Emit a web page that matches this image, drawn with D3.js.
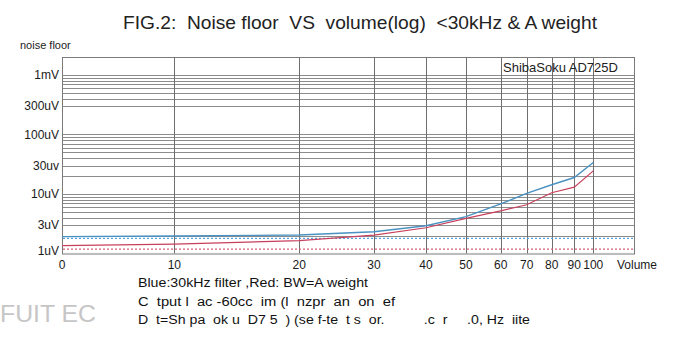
<!DOCTYPE html>
<html>
<head>
<meta charset="utf-8">
<script src="https://cdn.jsdelivr.net/npm/d3@7"></script>
<style>
  html, body { margin: 0; padding: 0; background: #fff; }
  svg { display: block; }
  text { font-family: "Liberation Sans", Arial, sans-serif; white-space: pre; }
</style>
</head>
<body>
<svg id="chart" width="680" height="340"></svg>
<script>
// Volume knob positions and where each one sits along the log-taper axis
// (fraction of the 0..100 span).
const volumeTicks = [0, 10, 20, 30, 40, 50, 60, 70, 80, 90, 100];
const taperPos    = [0, 0.2114, 0.4466, 0.5872, 0.6851, 0.7604, 0.8257, 0.8746, 0.9217, 0.9642, 1];

// Noise floor readings in uV, one per volume step.
const blue30k  = [1.92, 1.97, 2.04, 2.32, 2.93, 4.16, 6.8, 10.2, 14.3, 18.9, 33.8];
const redAwt   = [1.36, 1.44, 1.64, 2.04, 2.71, 3.9, 5.2, 6.6, 10.5, 13.0, 24.4];

// Residual floor of the analyzer itself (uV), drawn dotted.
const blueResidual = 1.8;
const redResidual  = 1.18;

// Y axis labels (uV).
const yTickValues = [1, 3, 10, 30, 100, 300, 1000];
const yTickLabels = ["1uV", "3uV", "10uV", "30uv", "100uV", "300uV", "1mV"];
const yDomain = [1, 2000];
// The printed log sheet has no 200uV rule.
const gridSkip = [200];

const svg = d3.select("#chart");
const plot = { left: 62, right: 635, top: 57, bottom: 253.5 };
const overrun = 1.0785;                   // frame continues past volume 100
const span = (plot.right - plot.left) / overrun;

const x = d3.scaleLinear()
  .domain(volumeTicks)
  .range(taperPos.map(f => plot.left + f * span));
const xEnd = plot.right;

const y = d3.scaleLog().domain(yDomain).range([plot.bottom, plot.top]);

// Title and axis name
svg.append("text")
  .attr("x", 123).attr("y", 29)
  .attr("textLength", 474).attr("lengthAdjust", "spacingAndGlyphs")
  .style("font-size", "19px").attr("fill", "#222")
  .text("FIG.2:  Noise floor  VS  volume(log)  <30kHz & A weight");

svg.append("text")
  .attr("x", 20).attr("y", 49)
  .style("font-size", "11px").attr("fill", "#222")
  .text("noise floor");

// Horizontal log grid: 1..9 in every decade
const gridVals = [];
[1, 10, 100, 1000].forEach(d => {
  for (let m = 1; m <= 9; m++) {
    const v = d * m;
    if (v > yDomain[0] && v < yDomain[1] && !gridSkip.includes(v)) gridVals.push(v);
  }
});
svg.append("g").selectAll("line").data(gridVals).join("line")
  .attr("x1", plot.left).attr("x2", xEnd)
  .attr("y1", d => Math.round(y(d)) + 0.5).attr("y2", d => Math.round(y(d)) + 0.5)
  .attr("stroke", "#8c8c8c").attr("stroke-width", 1);

// Vertical grid at each volume step
svg.append("g").selectAll("line").data(volumeTicks.slice(1)).join("line")
  .attr("x1", d => Math.round(x(d)) + 0.5).attr("x2", d => Math.round(x(d)) + 0.5)
  .attr("y1", plot.top).attr("y2", plot.bottom)
  .attr("stroke", "#6e6e6e").attr("stroke-width", 1);

// Frame
svg.append("rect")
  .attr("x", plot.left + 0.5).attr("y", plot.top + 0.5)
  .attr("width", xEnd - plot.left - 1).attr("height", plot.bottom - plot.top)
  .attr("fill", "none").attr("stroke", "#7a7a7a").attr("stroke-width", 1);

// Y axis labels
svg.append("g").selectAll("text").data(yTickValues).join("text")
  .attr("x", 59).attr("y", d => y(d))
  .attr("dy", d => d === 1 ? "0.1em" : "0.35em")
  .attr("text-anchor", "end")
  .style("font-size", "12px").attr("fill", "#1a1a1a")
  .text((d, i) => yTickLabels[i]);

// X axis labels
svg.append("g").selectAll("text").data(volumeTicks).join("text")
  .attr("x", d => x(d)).attr("y", 269)
  .attr("text-anchor", "middle")
  .style("font-size", "12px").attr("fill", "#1a1a1a")
  .text(d => d);
svg.append("text")
  .attr("x", 617).attr("y", 269)
  .style("font-size", "12px").attr("fill", "#1a1a1a")
  .text("Volume");

// Instrument label
svg.append("text")
  .attr("x", 503).attr("y", 72)
  .style("font-size", "13px").attr("fill", "#222")
  .text("ShibaSoku AD725D");

// Residual floors (dotted, full width)
[[blueResidual, "#5aa4d6"], [redResidual, "#d4607a"]].forEach(([v, c]) => {
  svg.append("line")
    .attr("x1", plot.left + 1).attr("x2", xEnd - 1)
    .attr("y1", y(v)).attr("y2", y(v))
    .attr("stroke", c).attr("stroke-width", 1.2)
    .attr("stroke-dasharray", "2,2");
});

// Measured curves
const line = d3.line().x((d, i) => x(volumeTicks[i])).y(d => y(d));
svg.append("path").datum(blue30k)
  .attr("d", line).attr("fill", "none")
  .attr("stroke", "#4a92c2").attr("stroke-width", 1.4);
svg.append("path").datum(redAwt)
  .attr("d", line).attr("fill", "none")
  .attr("stroke", "#c8405c").attr("stroke-width", 1.2);

// Notes under the chart
const notes = [
  "Blue:30kHz filter ,Red: BW=A weight",
  "C  tput l  ac -60cc  im (l  nzpr  an  on  ef",
  "D  t=Sh pa  ok u  D7 5  ) (se f-te  t s  or.          .c  r     .0, Hz  iite"
];
const noteLen = [230, 257, 392];
svg.append("g").selectAll("text").data(notes).join("text")
  .attr("x", 138).attr("y", (d, i) => 287 + i * 18.5)
  .attr("textLength", (d, i) => noteLen[i]).attr("lengthAdjust", "spacingAndGlyphs")
  .style("font-size", "12px").attr("fill", "#111")
  .text(d => d);

// Faint mark at lower left
svg.append("text")
  .attr("x", 0).attr("y", 322)
  .attr("textLength", 96).attr("lengthAdjust", "spacingAndGlyphs")
  .style("font-size", "24px").attr("fill", "#c6c6c6")
  .text("FUIT EC");
</script>
</body>
</html>
